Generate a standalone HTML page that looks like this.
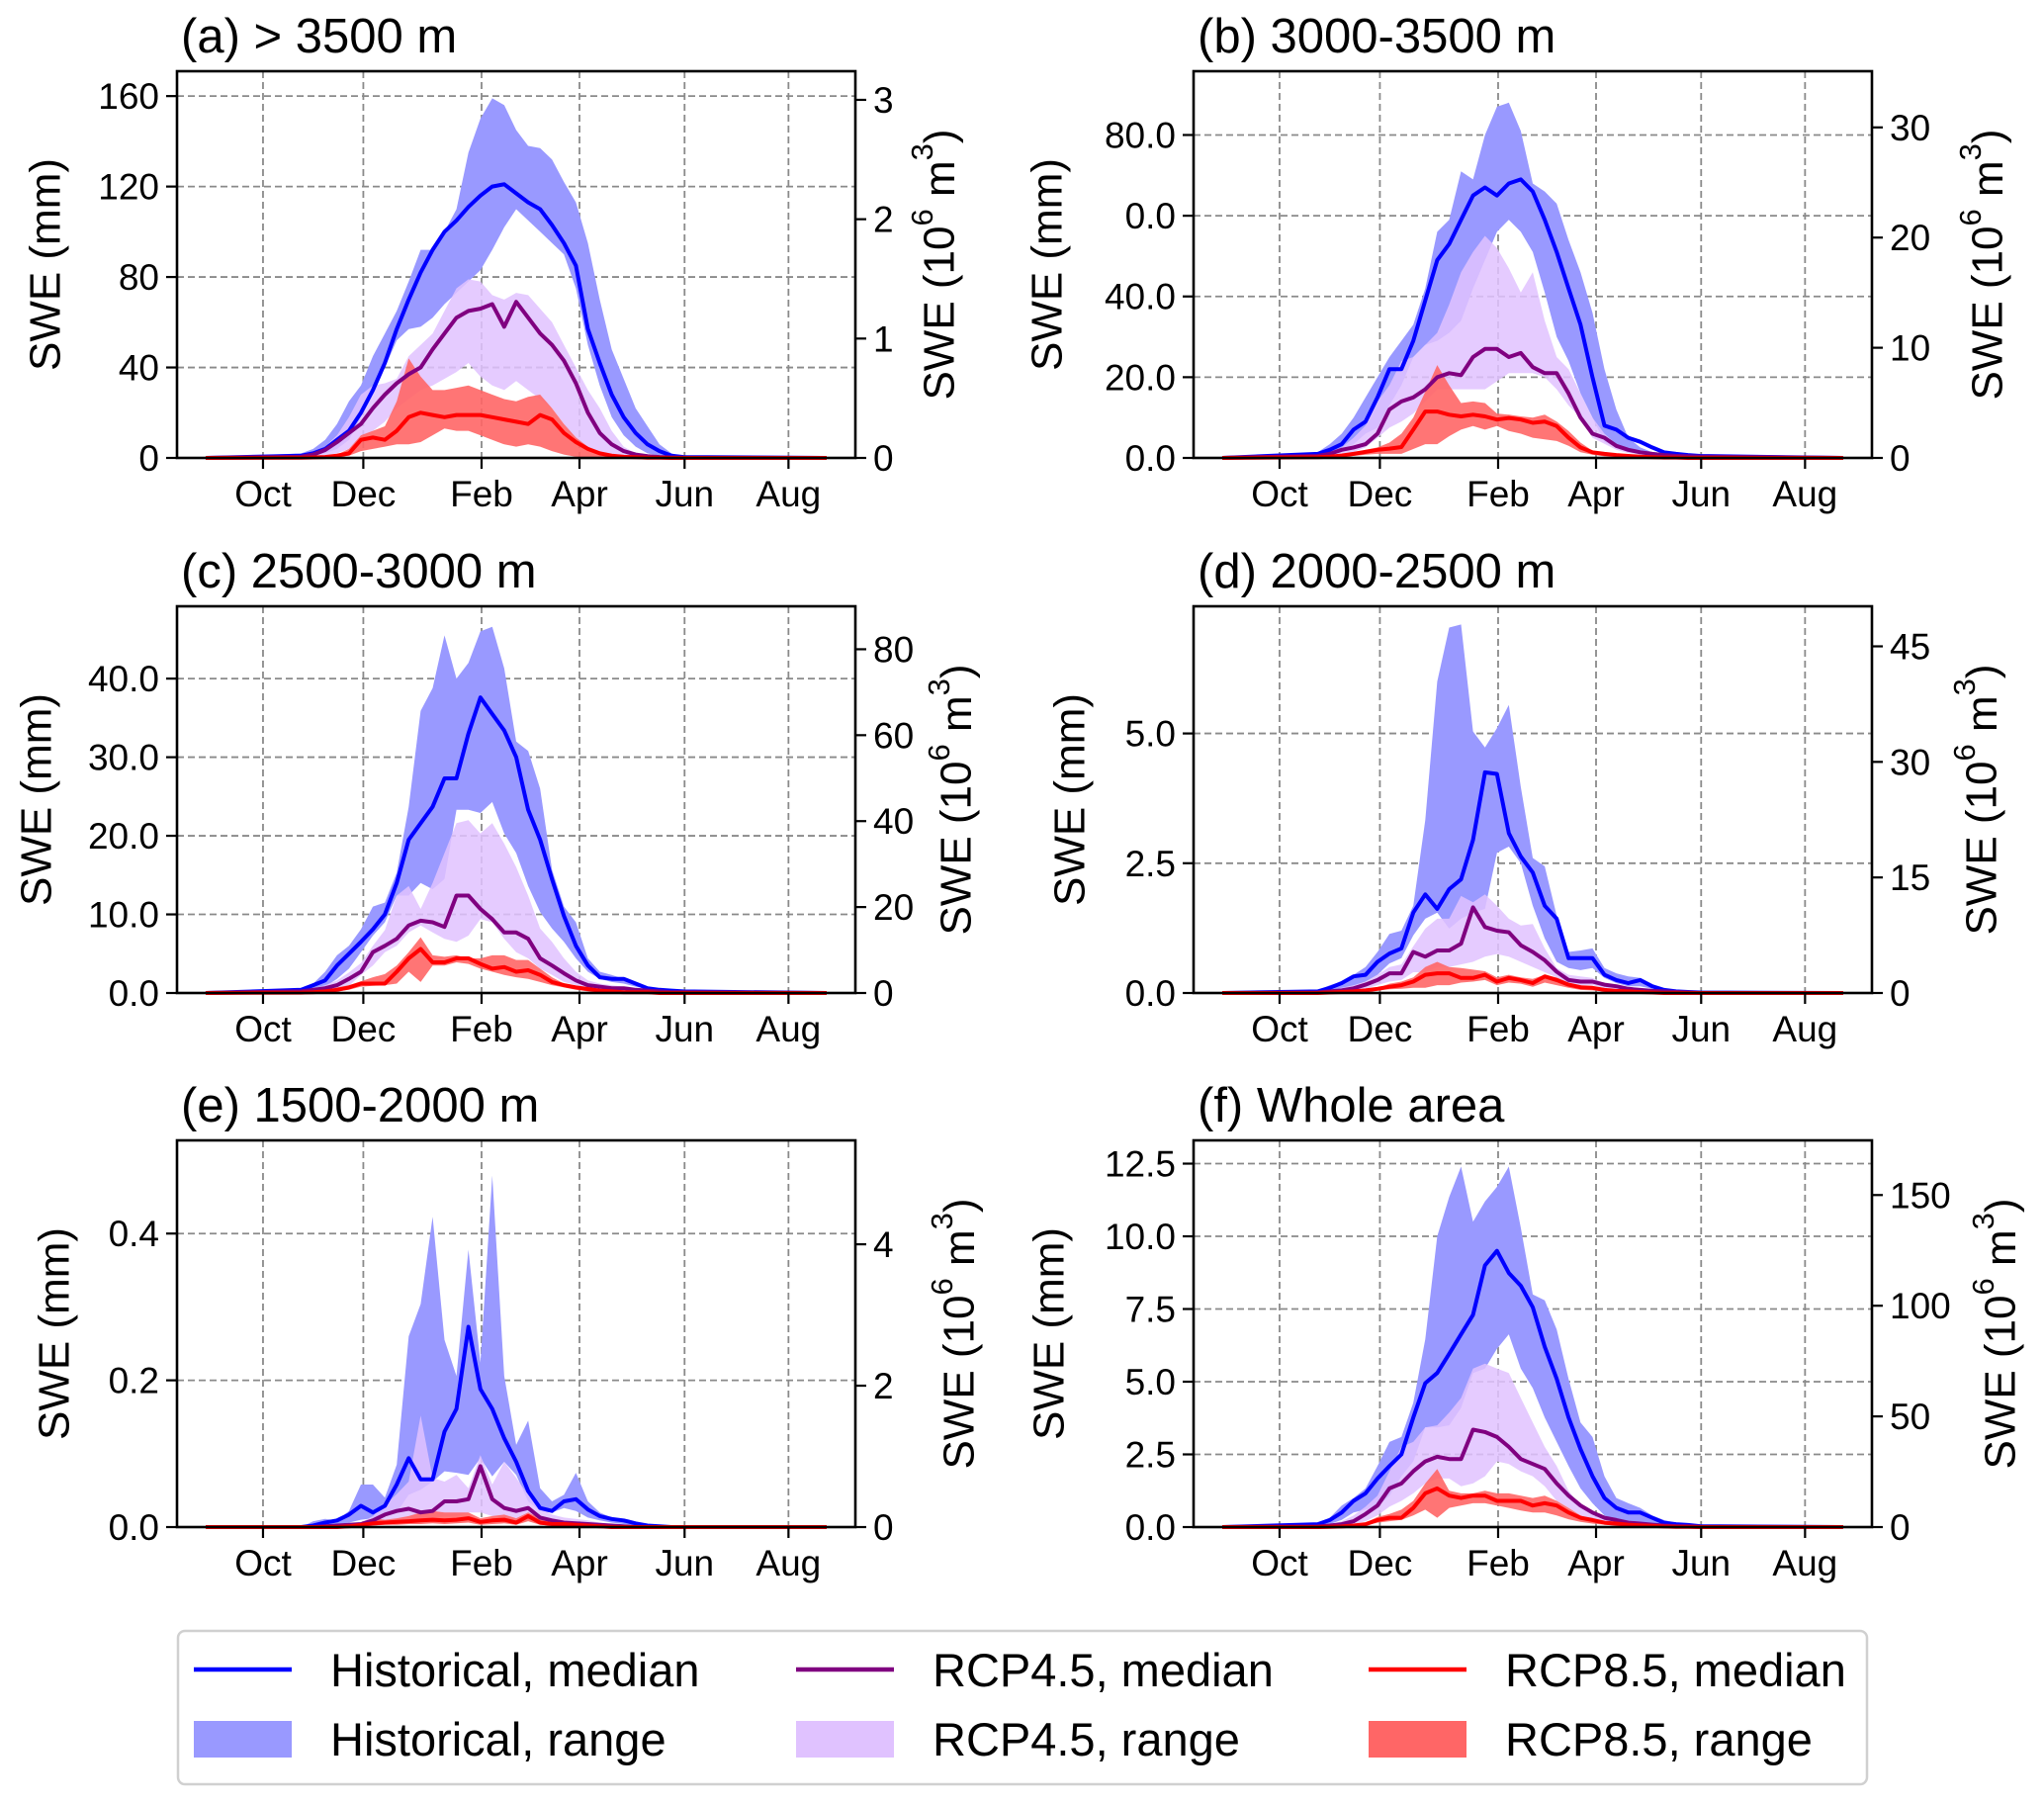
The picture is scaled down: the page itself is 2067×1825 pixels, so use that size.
<!DOCTYPE html>
<html><head><meta charset="utf-8"><title>SWE panels</title>
<style>
html,body{margin:0;padding:0;background:#fff;}
svg{display:block;font-family:"Liberation Sans",Arial,sans-serif;}
</style></head>
<body>
<svg id="chart" xmlns="http://www.w3.org/2000/svg" width="2067" height="1825" viewBox="0 0 2067 1825"></svg>
<script>
// ---- shared x data (week index of hydrological year) ----
const weeks = [0,8,9,10,11,12,13,14,15,16,17,18,19,20,21,22,23,24,25,26,27,28,29,30,31,32,33,34,35,36,37,38,39,40,52];
const monthLabels = ["Oct","Dec","Feb","Apr","Jun","Aug"];
const monthWeeks = [4.8,13.2,23.1,31.3,40.1,48.8];

// ---- panel (a) ----
const aHistMed=[0,1,2,4,8,12,20,30,42,57,70,82,92,100,105,111,116,120,121,117,113,110,103,95,85,57,42,28,18,11,6,3,1,0.4,0];
const aHistHi=[0,2,4,8,15,25,32,45,55,65,78,92,92,100,110,135,150,159,156,145,138,137,132,122,113,95,70,48,35,22,14,6,2,0.5,0];
const aHistLo=[0,0.5,1,2,4,8,18,28,40,52,57,58,62,68,73,78,83,92,102,110,105,100,95,90,75,50,32,18,10,5,2,1,0.4,0.2,0];
const a45Med=[0,0.5,1.5,3.5,7,11,15,22,28,33,37,40,48,55,62,65,66,68,58,69,62,55,50,43,33,20,11,6,3,1.5,0.8,0.4,0.2,0.1,0];
const a45Hi=[0,1,2,5,10,18,28,32,33,35,45,50,55,65,75,79,78,72,70,73,72,66,60,50,40,30,22,12,5,2,1,0.5,0.2,0.1,0];
const a45Lo=[0,0.2,0.5,1,2,4,8,12,16,22,26,30,32,35,38,42,36,32,30,34,30,26,22,15,8,3,1.5,0.8,0.4,0.2,0.1,0,0,0,0];
const a85Med=[0,0.1,0.2,0.4,1,2,8,9,8,12,18,20,19,18,19,19,19,18,17,16,15,19,17,11,7,4,2,1,0.5,0.3,0.1,0.1,0,0,0];
const a85Hi=[0,0.2,0.4,0.8,1.5,4,10,12,14,25,44,36,30,30,31,32,30,28,26,25,27,28,22,15,9,5,2,1,0.5,0.3,0.2,0.1,0,0,0];
const a85Lo=[0,0,0.1,0.2,0.3,1,3,4,5,6,6,7,10,13,12,12,10,8,6,5,6,5,3,1.5,0.5,0.2,0.1,0,0,0,0,0,0,0,0];
// ---- panel (b) ----
const bHistMed=[0,1,2,3.4,7,9,15,22,22,29,39,49,53,59,65,67,65,68,69,66,59,51,42,33,20,8,7,5,4,2.6,1.4,1,0.7,0.5,0];
const bHistHi=[0,1.4,3.4,6,10,15,20,25,29,33,42,56,59,71,69,80,87,88,81,68,66,63,54,46,36,22,12,5,2.6,1.4,1,0.8,0.7,0.5,0];
const bHistLo=[0,0.5,1,2,3.4,6,7.5,13,18,25,28,29,31,34,42,49,56,59,56,51,41,30,24,16,10,4,2.6,1.4,1,0.7,0.5,0.4,0.3,0.3,0];
const b45Med=[0,0.5,1,2,2.6,3.4,6,12,14,15,17,20,21,20.5,25,27,27,25,26,22.5,21,21,16,10,6,5,3,2,1.4,1,0.7,0.5,0.4,0.3,0];
const b45Hi=[0,0.8,1.4,2.6,5,8,14,18,24,25,28,31,38,46,51,55,52,47,41,46,34,25,22,16,10,6,3.4,2.2,1.4,1,0.7,0.5,0.4,0.3,0];
const b45Lo=[0,0.3,0.5,1,1.5,2.6,5,7.5,9,11,14,17,17,17,17,17,19,21,21,21,20,17,13,10,5,3.5,2,1.2,0.8,0.5,0.3,0.3,0.3,0.3,0];
const b85Med=[0,0.2,0.3,0.6,1,1.5,2,2.3,2.7,7,11.5,11.5,10.7,10.3,10.7,10.3,9.5,9.9,9.5,8.7,9,7.9,5,2.6,1.4,1,0.7,0.5,0.3,0.2,0.1,0.1,0,0,0];
const b85Hi=[0,0.3,0.5,0.8,1.2,2,2.6,3.8,6,10,16.4,23,18,13.6,14,13.6,11,10.7,10.3,10,10.7,9,6.7,3.8,1.8,1.1,0.8,0.6,0.4,0.3,0.2,0.1,0.1,0,0];
const b85Lo=[0,0.1,0.2,0.3,0.5,0.8,1,1,1,2.2,3.4,3.4,5.4,7,7.9,7,7.9,6.7,6,5,4.6,4.2,3,1.4,0.8,0.4,0.3,0.2,0.1,0.1,0,0,0,0,0];
// ---- panel (c) ----
const cHistMed=[0,0.4,1,1.6,3.5,5,6.5,8.1,10,14,19.5,21.6,23.7,27.3,27.3,33,37.6,35.5,33.4,30,23.3,19.5,14.5,9.8,6,3.5,2,1.8,1.8,1.2,0.6,0.4,0.3,0.2,0];
const cHistHi=[0,0.6,1.2,2.7,4.8,6,8.1,11,11.5,15.3,23.7,35.9,38.8,45.5,40,42,46,46.6,41.3,32,30.8,26,15.7,11,9,4.4,2.7,2.3,1.8,1.2,0.7,0.5,0.3,0.2,0];
const cHistLo=[0,0.2,0.4,0.8,1.8,3.1,5.2,7.3,9,12.4,12.4,14,13.2,14.5,23.3,23.3,22.9,24.3,20.3,17.8,13.6,10.3,8.2,6.5,4.4,2.7,1.8,1.4,1.2,0.8,0.5,0.3,0.2,0.1,0];
const c45Med=[0,0.2,0.4,0.6,1,1.8,2.7,5.2,6,6.9,8.6,9.2,9,8.4,12.4,12.4,10.7,9.4,7.7,7.7,6.9,4.4,3.5,2.5,1.6,1,0.8,0.6,0.6,0.4,0.3,0.2,0.1,0.1,0];
const c45Hi=[0,0.3,0.6,1,1.6,2.6,3.8,6,8,12.4,13.6,10.7,14,17.8,21.6,22,20.3,21.6,19,16,12.4,8.2,6.5,4.4,2.7,1.6,1.2,1,0.8,0.5,0.3,0.2,0.1,0.1,0];
const c45Lo=[0,0.1,0.2,0.3,0.5,0.9,2.3,3.5,5.2,6,7.7,8.6,7.7,6.9,6.5,7.3,9.4,9,6.9,5.2,4.4,3.1,2.3,1.4,1,0.7,0.5,0.3,0.2,0.1,0.1,0.1,0,0,0];
const c85Med=[0,0.05,0.1,0.2,0.4,0.7,1.2,1.2,1.2,2.7,4.4,5.6,3.9,3.9,4.4,4.4,3.7,3.1,3.3,2.7,2.9,2.3,1.4,1,0.7,0.5,0.3,0.2,0.1,0.1,0.1,0,0,0,0];
const c85Hi=[0,0.1,0.2,0.4,0.7,1,1.5,2,2.4,3.5,5.2,7.1,4.8,4.6,4.8,4.4,4.4,4.8,4.8,4.2,4.2,3.1,2,1.2,0.8,0.5,0.3,0.2,0.2,0.1,0.1,0.1,0,0,0];
const c85Lo=[0,0,0.05,0.1,0.2,0.4,0.8,0.9,1,1.2,2.7,1.4,3.5,3.5,3.9,3.7,3.1,2.7,2.3,2,1.8,1.4,1,0.7,0.4,0.2,0.1,0.1,0,0,0,0,0,0,0];
// ---- panel (d) ----
const dHistMed=[0,0.03,0.1,0.19,0.32,0.35,0.6,0.76,0.86,1.55,1.9,1.62,2,2.19,2.95,4.25,4.22,3.08,2.63,2.32,1.68,1.43,0.67,0.67,0.67,0.35,0.25,0.19,0.25,0.13,0.06,0.03,0.02,0.01,0];
const dHistHi=[0,0.05,0.15,0.22,0.35,0.5,0.79,1.14,1.2,1.68,3.33,6,7.04,7.1,5.04,4.73,5.1,5.55,3.97,2.6,2.44,1.49,0.79,0.82,0.86,0.48,0.38,0.32,0.29,0.16,0.08,0.04,0.02,0.02,0];
const dHistLo=[0,0,0.03,0.08,0.14,0.22,0.35,0.57,0.67,1.11,1.43,1.55,1.24,1.43,1.55,1.62,2.7,2.82,2.5,1.68,1.05,0.6,0.48,0.44,0.48,0.29,0.19,0.13,0.13,0.08,0.04,0.02,0.01,0,0];
const d45Med=[0,0.01,0.03,0.05,0.09,0.16,0.25,0.38,0.38,0.79,0.7,0.82,0.82,0.95,1.65,1.27,1.2,1.17,0.92,0.79,0.63,0.41,0.25,0.22,0.22,0.16,0.13,0.08,0.06,0.04,0.03,0.02,0.01,0,0];
const d45Hi=[0,0.02,0.05,0.1,0.15,0.22,0.35,0.5,0.55,0.9,1.24,1.43,1.43,1.87,1.75,1.9,1.68,1.43,1.3,1.33,0.86,0.48,0.35,0.32,0.29,0.19,0.13,0.08,0.05,0.03,0.02,0.02,0.01,0,0];
const d45Lo=[0,0,0.01,0.02,0.04,0.08,0.15,0.22,0.25,0.4,0.4,0.5,0.5,0.55,0.6,0.7,0.75,0.7,0.6,0.5,0.4,0.3,0.2,0.15,0.15,0.1,0.07,0.05,0.03,0.02,0.01,0,0,0,0];
const d85Med=[0,0,0.01,0.02,0.03,0.05,0.08,0.12,0.15,0.22,0.35,0.38,0.38,0.29,0.29,0.35,0.22,0.29,0.25,0.19,0.32,0.25,0.16,0.11,0.1,0.06,0.04,0.03,0.02,0.01,0,0,0,0,0];
const d85Hi=[0,0.01,0.02,0.04,0.06,0.08,0.1,0.18,0.22,0.3,0.5,0.6,0.5,0.48,0.45,0.42,0.3,0.35,0.3,0.27,0.35,0.3,0.2,0.15,0.12,0.08,0.06,0.04,0.03,0.02,0.01,0,0,0,0];
const d85Lo=[0,0,0,0.01,0.02,0.03,0.05,0.07,0.08,0.1,0.1,0.15,0.15,0.2,0.22,0.25,0.15,0.2,0.18,0.12,0.2,0.15,0.1,0.06,0.05,0.03,0.02,0.01,0,0,0,0,0,0,0];
// ---- panel (e) ----
const eHistMed=[0,0,0.002,0.006,0.009,0.017,0.029,0.02,0.029,0.058,0.094,0.065,0.065,0.13,0.161,0.273,0.188,0.161,0.121,0.089,0.049,0.026,0.022,0.035,0.038,0.024,0.015,0.011,0.009,0.005,0.002,0.001,0,0,0];
const eHistHi=[0,0,0.008,0.011,0.009,0.022,0.058,0.058,0.04,0.085,0.26,0.304,0.423,0.255,0.206,0.378,0.224,0.479,0.206,0.112,0.145,0.053,0.035,0.044,0.074,0.035,0.02,0.013,0.009,0.005,0.003,0.001,0,0,0];
const eHistLo=[0,0,0,0.002,0.003,0.006,0.01,0.012,0.015,0.02,0.044,0.051,0.062,0.076,0.074,0.071,0.094,0.069,0.089,0.071,0.035,0.022,0.02,0.026,0.022,0.013,0.009,0.006,0.004,0.002,0,0,0,0,0];
const e45Med=[0,0,0,0.001,0.002,0.003,0.004,0.009,0.017,0.022,0.025,0.02,0.022,0.035,0.035,0.038,0.083,0.038,0.026,0.022,0.026,0.013,0.009,0.006,0.005,0.004,0.003,0.002,0.001,0,0,0,0,0,0];
const e45Hi=[0,0,0.001,0.002,0.004,0.006,0.006,0.015,0.03,0.045,0.062,0.152,0.067,0.062,0.071,0.053,0.098,0.058,0.089,0.067,0.044,0.026,0.017,0.013,0.011,0.009,0.006,0.004,0.002,0.001,0,0,0,0,0];
const e45Lo=[0,0,0,0,0,0.001,0.002,0.003,0.005,0.008,0.01,0.012,0.012,0.015,0.015,0.02,0.02,0.015,0.012,0.01,0.01,0.006,0.004,0.002,0.001,0,0,0,0,0,0,0,0,0,0];
const e85Med=[0,0,0,0,0,0.001,0.003,0.005,0.006,0.007,0.008,0.009,0.01,0.009,0.01,0.012,0.007,0.009,0.01,0.006,0.015,0.006,0.004,0.004,0.003,0.002,0.001,0,0,0,0,0,0,0,0];
const e85Hi=[0,0,0,0,0.001,0.003,0.006,0.012,0.01,0.012,0.015,0.02,0.022,0.02,0.02,0.02,0.012,0.015,0.017,0.012,0.02,0.012,0.008,0.006,0.005,0.003,0.002,0.001,0,0,0,0,0,0,0];
const e85Lo=[0,0,0,0,0,0,0.001,0.002,0.003,0.003,0.004,0.004,0.005,0.004,0.005,0.006,0.003,0.004,0.005,0.003,0.008,0.003,0.002,0.002,0.001,0.001,0,0,0,0,0,0,0,0,0];
// ---- panel (f) ----
const fHistMed=[0,0.1,0.24,0.5,0.9,1.16,1.67,2.1,2.5,3.77,4.95,5.3,5.96,6.63,7.3,9,9.5,8.74,8.3,7.56,6.2,5.1,3.77,2.68,1.75,1,0.66,0.5,0.5,0.32,0.15,0.1,0.07,0.03,0];
const fHistHi=[0,0.15,0.32,0.74,1,1.33,2.1,2.93,3.1,4.28,6.46,10,11.35,12.4,10.5,11.2,11.7,12.4,10.3,8,7.8,6.8,5.1,3.6,3.1,1.75,1,0.82,0.66,0.4,0.24,0.15,0.1,0.05,0];
const fHistLo=[0,0.03,0.1,0.25,0.5,0.6,0.7,1.08,1.75,2.26,3.43,3.43,3.5,4.1,5.3,5.45,6.13,6.63,5.45,4.78,3.77,2.93,2.1,1.33,0.82,0.4,0.24,0.15,0.1,0.07,0.04,0.02,0.01,0,0];
const f45Med=[0,0.02,0.05,0.1,0.2,0.45,0.74,1.33,1.5,1.92,2.26,2.42,2.34,2.34,3.35,3.27,3.1,2.76,2.34,2.17,2,1.5,1.08,0.74,0.5,0.32,0.24,0.15,0.12,0.08,0.05,0.03,0.02,0.01,0];
const f45Hi=[0,0.05,0.1,0.2,0.4,0.7,1.08,1.92,2.76,2.93,3.43,3.5,3.94,4.44,5.45,5.62,5.45,5.3,4.44,3.6,2.76,2.1,1.25,0.74,0.5,0.32,0.2,0.15,0.1,0.07,0.04,0.02,0.01,0,0];
const f45Lo=[0,0,0.02,0.05,0.1,0.2,0.4,0.7,0.9,1.16,1.5,1.67,1.67,1.4,1.5,1.75,2.26,2.17,1.92,1.75,1.4,0.9,0.66,0.4,0.27,0.18,0.1,0.06,0.04,0.02,0.01,0,0,0,0];
const f85Med=[0,0,0.01,0.02,0.05,0.1,0.24,0.32,0.32,0.66,1.16,1.33,1.08,1,1.08,1.08,0.9,0.9,0.9,0.74,0.82,0.74,0.5,0.32,0.24,0.15,0.12,0.08,0.06,0.04,0.02,0.01,0.01,0,0];
const f85Hi=[0,0,0.02,0.04,0.08,0.15,0.35,0.45,0.6,0.9,1.5,2,1.25,1.16,1.16,1.25,1.16,1.16,1.08,1,1.08,0.9,0.66,0.4,0.27,0.18,0.14,0.1,0.07,0.05,0.03,0.02,0.01,0,0];
const f85Lo=[0,0,0,0.01,0.02,0.05,0.15,0.2,0.25,0.4,0.6,0.32,0.66,0.74,0.82,0.82,0.74,0.66,0.57,0.5,0.5,0.4,0.27,0.18,0.12,0.08,0.04,0.03,0.02,0.01,0,0,0,0,0];

// ---- axis tick values / labels ----
const aLeftTicks=[0,40,80,120,160], aLeftLabels=["0","40","80","120","160"], aRightTicks=[0,1,2,3], aRightLabels=["0","1","2","3"];
const bLeftTicks=[0,20,40,60,80], bLeftLabels=["0.0","20.0","40.0","0.0","80.0"], bRightTicks=[0,10,20,30], bRightLabels=["0","10","20","30"];
const cLeftTicks=[0,10,20,30,40], cLeftLabels=["0.0","10.0","20.0","30.0","40.0"], cRightTicks=[0,20,40,60,80], cRightLabels=["0","20","40","60","80"];
const dLeftTicks=[0,2.5,5], dLeftLabels=["0.0","2.5","5.0"], dRightTicks=[0,15,30,45], dRightLabels=["0","15","30","45"];
const eLeftTicks=[0,0.2,0.4], eLeftLabels=["0.0","0.2","0.4"], eRightTicks=[0,2,4], eRightLabels=["0","2","4"];
const fLeftTicks=[0,2.5,5,7.5,10,12.5], fLeftLabels=["0.0","2.5","5.0","7.5","10.0","12.5"], fRightTicks=[0,50,100,150], fRightLabels=["0","50","100","150"];

const NS="http://www.w3.org/2000/svg";
const svg=document.getElementById('chart');
function mk(tag,attrs,parent){const e=document.createElementNS(NS,tag);for(const k in attrs)e.setAttribute(k,attrs[k]);(parent||svg).appendChild(e);return e;}

const panels=[
 {id:'a',title:'(a) > 3500 m',x:179,y:72,ymax:171,rmax:3.24,lt:aLeftTicks,ll:aLeftLabels,rt:aRightTicks,rl:aRightLabels,ylx:46,yrx:950,
  s:[aHistLo,aHistHi,aHistMed,a45Lo,a45Hi,a45Med,a85Lo,a85Hi,a85Med]},
 {id:'b',title:'(b) 3000-3500 m',x:1207,y:72,ymax:95.8,rmax:35.1,lt:bLeftTicks,ll:bLeftLabels,rt:bRightTicks,rl:bRightLabels,ylx:1059,yrx:2010,
  s:[bHistLo,bHistHi,bHistMed,b45Lo,b45Hi,b45Med,b85Lo,b85Hi,b85Med]},
 {id:'c',title:'(c) 2500-3000 m',x:179,y:613,ymax:49.2,rmax:90,lt:cLeftTicks,ll:cLeftLabels,rt:cRightTicks,rl:cRightLabels,ylx:37,yrx:967,
  s:[cHistLo,cHistHi,cHistMed,c45Lo,c45Hi,c45Med,c85Lo,c85Hi,c85Med]},
 {id:'d',title:'(d) 2000-2500 m',x:1207,y:613,ymax:7.45,rmax:50.2,lt:dLeftTicks,ll:dLeftLabels,rt:dRightTicks,rl:dRightLabels,ylx:1082,yrx:2004,
  s:[dHistLo,dHistHi,dHistMed,d45Lo,d45Hi,d45Med,d85Lo,d85Hi,d85Med]},
 {id:'e',title:'(e) 1500-2000 m',x:179,y:1153,ymax:0.527,rmax:5.47,lt:eLeftTicks,ll:eLeftLabels,rt:eRightTicks,rl:eRightLabels,ylx:55,yrx:970,
  s:[eHistLo,eHistHi,eHistMed,e45Lo,e45Hi,e45Med,e85Lo,e85Hi,e85Med]},
 {id:'f',title:'(f) Whole area',x:1207,y:1153,ymax:13.3,rmax:174.7,lt:fLeftTicks,ll:fLeftLabels,rt:fRightTicks,rl:fRightLabels,ylx:1061,yrx:2023,
  s:[fHistLo,fHistHi,fHistMed,f45Lo,f45Hi,f45Med,f85Lo,f85Hi,f85Med]}
];
const W=686,H=391;
const fillCols=['#9999ff','#e0c2ff','#ff6666'];
const fillOp=[1,0.85,0.9];
const lineCols=['#0000ff','#800080','#ff0000'];
const seriesNames=['historical','rcp45','rcp85'];

panels.forEach(p=>{
  const g=mk('g',{});
  
  
  const xs=w=>p.x+29+(w/52)*628;
  const ys=v=>p.y+H-(v/p.ymax)*H;
  const ysr=v=>p.y+H-(v/p.rmax)*H;
  const bottom=p.y+H, right=p.x+W;
  p.lt.forEach(t=>{const l=mk('line',{x1:p.x,x2:right,y1:ys(t),y2:ys(t),stroke:'#8a8a8a','stroke-width':1.8,'stroke-dasharray':'7,4'},g);
    });
  monthWeeks.forEach(w=>{const l=mk('line',{x1:xs(w),x2:xs(w),y1:p.y,y2:bottom,stroke:'#8a8a8a','stroke-width':1.8,'stroke-dasharray':'7,4'},g);
    });
  for(let k=0;k<3;k++){
    const lo=p.s[k*3],hi=p.s[k*3+1];
    let d='M'+weeks.map((w,i)=>xs(w).toFixed(1)+','+ys(hi[i]).toFixed(1)).join('L');
    for(let i=weeks.length-1;i>=0;i--)d+='L'+xs(weeks[i]).toFixed(1)+','+ys(lo[i]).toFixed(1);
    const a=mk('path',{d:d+'Z',fill:fillCols[k],'fill-opacity':fillOp[k],stroke:'none'},g);
    
    
  }
  for(let k=0;k<3;k++){
    const md=p.s[k*3+2];
    const l=mk('polyline',{points:weeks.map((w,i)=>xs(w).toFixed(1)+','+ys(md[i]).toFixed(1)).join(' '),fill:'none',stroke:lineCols[k],'stroke-width':4,'stroke-linejoin':'round'},g);
    
    
  }
  const fr=mk('rect',{x:p.x,y:p.y,width:W,height:H,fill:'none',stroke:'#000','stroke-width':2.6},g);
  
  p.lt.forEach((t,i)=>{
    mk('line',{x1:p.x-11,x2:p.x,y1:ys(t),y2:ys(t),stroke:'#000','stroke-width':2.2},g);
    const tx=mk('text',{x:p.x-18,y:ys(t)+13,'text-anchor':'end','font-size':37,fill:'#000'},g);
    tx.textContent=p.ll[i];
    
  });
  p.rt.forEach((t,i)=>{
    mk('line',{x1:right,x2:right+11,y1:ysr(t),y2:ysr(t),stroke:'#000','stroke-width':2.2},g);
    const tx=mk('text',{x:right+18,y:ysr(t)+13,'text-anchor':'start','font-size':37,fill:'#000'},g);
    tx.textContent=p.rl[i];
    
  });
  monthWeeks.forEach((w,i)=>{
    mk('line',{x1:xs(w),x2:xs(w),y1:bottom,y2:bottom+11,stroke:'#000','stroke-width':2.2},g);
    const tx=mk('text',{x:xs(w),y:bottom+49,'text-anchor':'middle','font-size':37,fill:'#000'},g);
    tx.textContent=monthLabels[i];
    
  });
  const tt=mk('text',{x:p.x+4,y:p.y-19,'font-size':49,fill:'#000'},g);
  tt.textContent=p.title;
  
  const cy=p.y+H/2;
  const yl=mk('text',{x:p.ylx,y:cy,'text-anchor':'middle','dominant-baseline':'central','font-size':44,fill:'#000',transform:'rotate(-90 '+p.ylx+' '+cy+')'},g);
  yl.textContent='SWE (mm)';
  
  const yr=mk('text',{x:p.yrx,y:cy,'text-anchor':'middle','dominant-baseline':'central','font-size':44,fill:'#000',transform:'rotate(-90 '+p.yrx+' '+cy+')'},g);
  
  yr.appendChild(document.createTextNode('SWE (10'));
  const s1=mk('tspan',{'baseline-shift':'super','font-size':31},yr);s1.textContent='6';
  const s2=mk('tspan',{},yr);s2.textContent=' m';
  const s3=mk('tspan',{'baseline-shift':'super','font-size':31},yr);s3.textContent='3';
  const s4=mk('tspan',{},yr);s4.textContent=')';
});

const lg=mk('g',{});


mk('rect',{x:180,y:1649,width:1708,height:155,rx:7,fill:'#fff',stroke:'#d0d0d0','stroke-width':2.5},lg);
const legendLabels=[['Historical, median','Historical, range'],['RCP4.5, median','RCP4.5, range'],['RCP8.5, median','RCP8.5, range']];
const legX=[196,805,1384], legTX=[334,943,1522];
for(let k=0;k<3;k++){
  const e1=mk('g',{},lg);
  
  
  mk('line',{x1:legX[k],x2:legX[k]+99,y1:1688,y2:1688,stroke:lineCols[k],'stroke-width':4.5},e1);
  const t1=mk('text',{x:legTX[k],y:1705,'font-size':47,fill:'#000'},e1);t1.textContent=legendLabels[k][0];
  const e2=mk('g',{},lg);
  
  
  mk('rect',{x:legX[k],y:1740,width:99,height:37,fill:fillCols[k]},e2);
  const t2=mk('text',{x:legTX[k],y:1775,'font-size':47,fill:'#000'},e2);t2.textContent=legendLabels[k][1];
}
</script>
</body></html>
